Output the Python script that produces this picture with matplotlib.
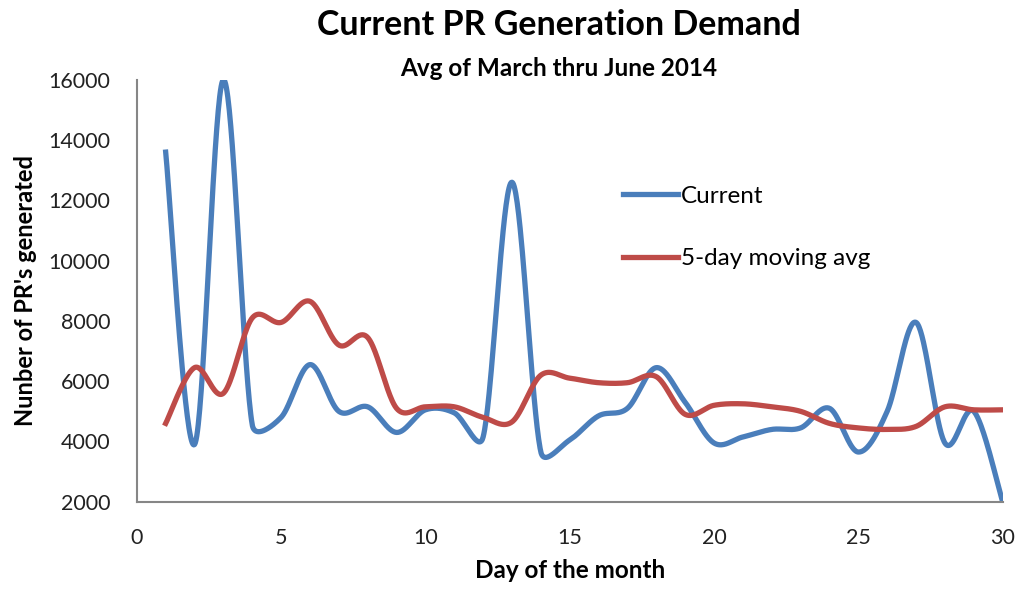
"""Current PR generation demand: daily count vs 5-day moving average (smoothed lines)."""
import matplotlib
matplotlib.use("Agg")
import matplotlib.pyplot as plt
import numpy as np

days = list(range(1, 31))
current = [13600, 3900, 16000, 4550, 4800, 6550, 5000, 5150, 4300, 5050,
           4950, 4150, 12600, 3650, 4050, 4850, 5100, 6450, 5300, 3950,
           4150, 4400, 4450, 5100, 3650, 5000, 7950, 3950, 5000, 2000]
moving_avg = [4600, 6450, 5600, 8100, 7950, 8650, 7200, 7450, 5100, 5150,
              5150, 4800, 4650, 6200, 6100, 5950, 5950, 6150, 4900, 5200,
              5250, 5150, 5000, 4600, 4450, 4400, 4500, 5150, 5050, 5050]

BLUE = "#4a7ebb"
RED = "#be4b48"
FONT = ["Lato", "DejaVu Sans"]
XMAX, YMIN, YMAX = 30, 2000, 16000


def smooth(x, y, sx, sy, n=40):
    # Excel-like smoothed line: cubic Bezier through every point, tangent arms
    # capped at half the adjacent chord (in screen units) to limit overshoot
    p = np.column_stack([np.asarray(x, float) * sx, np.asarray(y, float) * sy])
    p = np.vstack([p[0], p, p[-1]])
    t = np.linspace(0, 1, n)[:, None]
    out = []
    for i in range(1, len(p) - 2):
        a, b = p[i], p[i + 1]
        chord = np.linalg.norm(b - a)
        arm1 = (b - p[i - 1]) / 6
        arm2 = (p[i + 2] - a) / 6
        for arm in (arm1, arm2):
            L = np.linalg.norm(arm)
            if L > 0.5 * chord:
                arm *= 0.5 * chord / L
        c1, c2 = a + arm1, b - arm2
        seg = (1 - t) ** 3 * a + 3 * (1 - t) ** 2 * t * c1 + 3 * (1 - t) * t ** 2 * c2 + t ** 3 * b
        out.append(seg)
    out = np.vstack(out)
    return out[:, 0] / sx, out[:, 1] / sy


plt.rcParams["font.family"] = FONT
fig = plt.figure(figsize=(10.21, 5.91), dpi=100)
ax = fig.add_axes([0.134, 0.151, 0.848, 0.714])

# pixel scale of the axes, so smoothing is done in screen space
sx = 0.848 * 1021 / XMAX
sy = 0.714 * 591 / (YMAX - YMIN)

ax.plot(*smooth(days, current, sx, sy), color=BLUE, lw=3.8, label="Current")
ax.plot(*smooth(days, moving_avg, sx, sy), color=RED, lw=3.8, label="5-day moving avg")

ax.set_xlim(0, XMAX)
ax.set_ylim(YMIN, YMAX)
ax.set_xticks(range(0, 31, 5))
ax.set_yticks(range(2000, 16001, 2000))
ax.tick_params(length=0, labelsize=15.5, labelcolor="#222222")
ax.tick_params(axis="x", pad=19)
ax.tick_params(axis="y", pad=19)
for side in ("top", "right"):
    ax.spines[side].set_visible(False)
for side in ("left", "bottom"):
    ax.spines[side].set_color("#868686")
    ax.spines[side].set_linewidth(1.5)

ax.set_xlabel("Day of the month", fontsize=17.5, fontweight="bold", labelpad=8)
ax.set_ylabel("Nunber of PR's generated", fontsize=17, fontweight="bold", labelpad=8)

fig.text(0.547, 0.957, "Current PR Generation Demand", ha="center", va="center",
         fontsize=24.5, fontweight="bold")
fig.text(0.547, 0.884, "Avg of March thru June 2014", ha="center", va="center",
         fontsize=17.5, fontweight="bold")

ax.legend(loc="center left", bbox_to_anchor=(0.561, 0.650), frameon=False, fontsize=17.5,
          handlelength=2.3, handletextpad=0.1, labelspacing=1.7,
          borderpad=0, borderaxespad=0)

fig.savefig("out.png", dpi=100)
